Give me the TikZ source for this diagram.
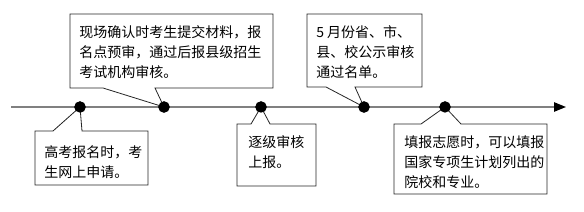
\documentclass[tikz,border=0pt]{standalone}
\usepackage{fontspec}
\newfontfamily\cjk{Noto Sans CJK SC}
\usetikzlibrary{arrows.meta}
\begin{document}
\begin{tikzpicture}[x=0.75pt,y=-0.75pt,
  callout/.style={draw=black!85,line width=0.6pt,fill=white},
  dotmark/.style={circle,fill=black,inner sep=0pt,minimum size=8.5pt},
  txt/.style={anchor=north west,inner sep=0pt,align=left,font=\cjk\fontsize{10.5pt}{15pt}\selectfont}]
\useasboundingbox (0,0) rectangle (584,211);
% timeline
\coordinate (ls) at (11,107);
\coordinate (le) at (566,107);
\draw[draw=black!50,line width=1.1pt,-{Triangle[length=9pt,width=7pt,fill=black,color=black]}] (ls) -- (le);
% dots
\node[dotmark] (d1) at (80,107) {};
\node[dotmark] (d2) at (164,107) {};
\node[dotmark] (d3) at (261,107) {};
\node[dotmark] (d4) at (364,107) {};
\node[dotmark] (d5) at (445,107) {};
% callouts
\draw[callout] (70,14) -- (273,14) -- (273,88) -- (155,88) -- (d2.center) -- (103,88) -- (70,88) -- cycle;
\draw[callout] (35,131) -- (53,131) -- (d1.center) -- (82,131) -- (148,131) -- (148,185) -- (35,185) -- cycle;
\draw[callout] (237,124) -- (251,124) -- (d3.center) -- (270,124) -- (316,124) -- (316,186) -- (237,186) -- cycle;
\draw[callout] (307,14) -- (422,14) -- (422,87) -- (355,87) -- (d4.center) -- (326,87) -- (307,87) -- cycle;
\draw[callout] (394,124) -- (421,124) -- (d5.center) -- (461,124) -- (547,124) -- (547,194) -- (394,194) -- cycle;
\node[dotmark] at (d1) {};
\node[dotmark] at (d2) {};
\node[dotmark] at (d3) {};
\node[dotmark] at (d4) {};
\node[dotmark] at (d5) {};
% texts
\node[txt] (t1) at (79,25) {现场确认时考生提交材料，报\\名点预审，通过后报县级招生\\考试机构审核。};
\node[txt] (t2) at (44,145) {高考报名时，考\\生网上申请。};
\node[txt] (t3) at (248,135) {逐级审核\\上报。};
\node[txt] (t4) at (316,25) {5 月份省、市、\\县、校公示审核\\通过名单。};
\node[txt] (t5) at (404,135) {填报志愿时，可以填报\\国家专项生计划列出的\\院校和专业。};
\end{tikzpicture}
\end{document}
